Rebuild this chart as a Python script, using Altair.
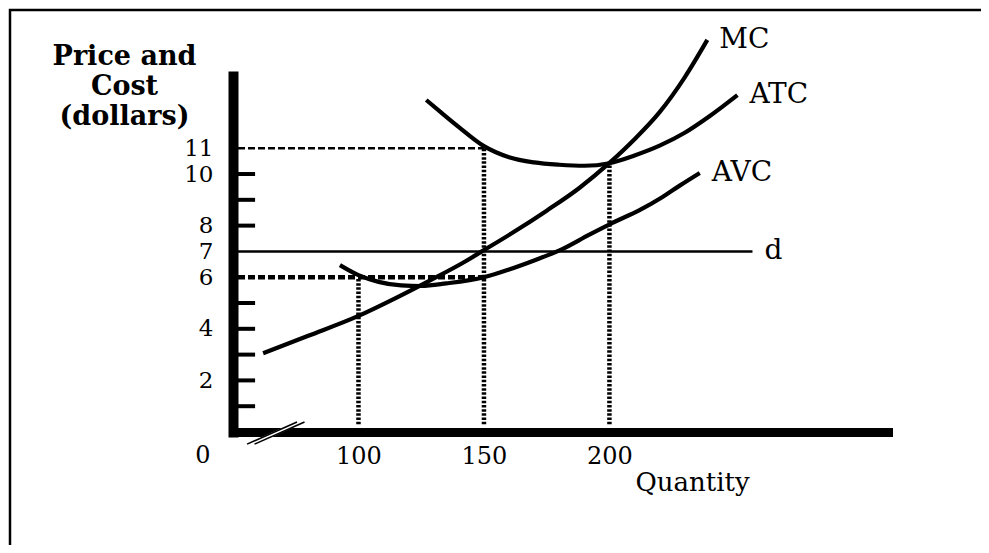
import altair as alt
import pandas as pd

FONT = "DejaVu Serif"

# ---- curve data (quantity, dollars) ----
mc_q = [62, 80, 100, 115, 128, 142, 150, 162, 175, 188, 200, 210, 220, 230, 239]
mc_p = [3.05, 3.73, 4.5, 5.2, 5.85, 6.58, 7.05, 7.76, 8.58, 9.46, 10.43, 11.35, 12.4, 13.75, 15.2]

atc_q = [127, 133, 140, 150, 160, 170, 180, 190, 200, 210, 220, 230, 240, 251]
atc_p = [12.87, 12.38, 11.82, 11.08, 10.65, 10.45, 10.36, 10.32, 10.42, 10.72, 11.1, 11.6, 12.25, 13.06]

avc_q = [92.6, 100, 108, 117, 125, 135, 150, 160, 170, 181, 192, 201, 212, 221, 228, 236]
avc_p = [6.47, 6.08, 5.82, 5.68, 5.66, 5.76, 6.0, 6.3, 6.65, 7.08, 7.65, 8.1, 8.6, 9.1, 9.55, 10.04]

curve_names = ["MC", "ATC", "AVC"]

# demand line d
demand_price = 7
demand_end = 257

# horizontal dashed guides
guide11_price, guide11_end = 11, 150
guide6_price, guide6_end = 6, 150

# vertical dotted guides
dotted_q = [100, 150, 200]
dotted_top = [6, 11, 10.42]

# axis text
y_label_values = [2, 4, 6, 7, 8, 10, 11]
y_minor_ticks = [1, 2, 3, 4, 5, 8, 9, 10]
x_label_values = [100, 150, 200]
y_title = ["Price and", "Cost", "(dollars)"]
x_title = "Quantity"

Q_DOMAIN = [50, 311]
P_DOMAIN = [0, 13.8]

# ---- tables ----
curves = pd.concat([
    pd.DataFrame({"q": mc_q, "p": mc_p, "curve": "MC"}),
    pd.DataFrame({"q": atc_q, "p": atc_p, "curve": "ATC"}),
    pd.DataFrame({"q": avc_q, "p": avc_p, "curve": "AVC"}),
], ignore_index=True)

ends = pd.DataFrame({
    "q": [mc_q[-1], atc_q[-1], avc_q[-1], demand_end],
    "p": [mc_p[-1], atc_p[-1], avc_p[-1], demand_price],
    "t": curve_names + ["d"],
})

axis_edge = 52.0  # right edge of the thick y axis, in quantity units

demand_df = pd.DataFrame({"q1": [axis_edge], "q2": [demand_end], "p": [demand_price]})
g11_df = pd.DataFrame({"q1": [axis_edge], "q2": [guide11_end], "p": [guide11_price]})
g6_df = pd.DataFrame({"q1": [axis_edge], "q2": [guide6_end], "p": [guide6_price]})
dotted_df = pd.DataFrame({"q": dotted_q, "p1": [0.3] * 3, "p2": dotted_top})
ticks_df = pd.DataFrame({"p": y_minor_ticks, "q1": axis_edge, "q2": 58.8})
break_df = pd.DataFrame({"q1": [55.6, 58.6], "q2": [75.5, 78.5], "p1": [-0.47, -0.47], "p2": [0.39, 0.39]})
gap_df = pd.DataFrame({"q1": [57.1], "q2": [77.0], "p1": [-0.47], "p2": [0.39]})
zero_df = pd.DataFrame({"q": [38], "p": [-1.2], "t": ["0"]})

xs = alt.Scale(domain=Q_DOMAIN, nice=False, zero=False)
ys = alt.Scale(domain=P_DOMAIN, nice=False, zero=False)

x_axis = alt.Axis(
    values=x_label_values, domainWidth=9, domainColor="black", domainCap="square",
    ticks=False, grid=False, labelFont=FONT, labelFontSize=24, labelColor="black",
    labelBaseline="alphabetic", labelPadding=31, labelFlush=False,
    title=x_title, titleFont=FONT, titleFontSize=26, titleFontWeight="normal",
    titleColor="black", titleX=459, titleY=58, titleAlign="center",
    titleBaseline="alphabetic",
)
y_axis = alt.Axis(
    values=y_label_values, domainWidth=10, domainColor="black", domainCap="square",
    ticks=False, grid=False, labelFont=FONT, labelFontSize=23, labelColor="black",
    labelBaseline="middle", labelPadding=20, labelFlush=False,
    title=y_title, titleFont=FONT, titleFontSize=27, titleFontWeight="bold",
    titleColor="black", titleAngle=0, titleX=-109, titleY=-12, titleAlign="center",
    titleBaseline="alphabetic", titleLineHeight=30,
)


def X(f):
    return alt.X(f, type="quantitative", scale=xs, axis=x_axis)


def Y(f):
    return alt.Y(f, type="quantitative", scale=ys, axis=y_axis)


frame = alt.Chart(zero_df).mark_rect(filled=False, stroke="black", strokeWidth=2.5).encode(
    x=alt.value(-223), x2=alt.value(800), y=alt.value(-66), y2=alt.value(520)
)

demand = alt.Chart(demand_df).mark_rule(color="black", strokeWidth=2.5).encode(
    x=X("q1"), x2="q2", y=Y("p")
)
g11 = alt.Chart(g11_df).mark_rule(color="black", strokeWidth=2.5, strokeDash=[7, 3]).encode(
    x=X("q1"), x2="q2", y=Y("p")
)
g6 = alt.Chart(g6_df).mark_rule(color="black", strokeWidth=4.5, strokeDash=[7, 3]).encode(
    x=X("q1"), x2="q2", y=Y("p")
)
dotted = alt.Chart(dotted_df).mark_rule(color="black", strokeWidth=4.5, strokeDash=[2.5, 1.7]).encode(
    x=X("q"), y=Y("p1"), y2="p2"
)
lines = alt.Chart(curves).mark_line(color="black", strokeWidth=4.2, interpolate="monotone").encode(
    x=X("q"), y=Y("p"), detail="curve:N"
)
ticks = alt.Chart(ticks_df).mark_rule(color="black", strokeWidth=4).encode(
    x=X("q1"), x2="q2", y=Y("p")
)
gap = alt.Chart(gap_df).mark_rule(color="white", strokeWidth=4).encode(
    x=X("q1"), x2="q2", y=Y("p1"), y2="p2"
)
brk = alt.Chart(break_df).mark_rule(color="black", strokeWidth=1.6).encode(
    x=X("q1"), x2="q2", y=Y("p1"), y2="p2"
)
labels = alt.Chart(ends).mark_text(
    align="left", baseline="middle", dx=12, font=FONT, fontSize=28, color="black"
).encode(x=X("q"), y=Y("p"), text="t:N")
zero = alt.Chart(zero_df).mark_text(
    align="center", baseline="alphabetic", font=FONT, fontSize=24, color="black"
).encode(x=X("q"), y=Y("p"), text="t:N")

chart = alt.layer(
    frame, g11, g6, dotted, demand, lines, ticks, gap, brk, labels, zero
).properties(
    width=655, height=356,
    autosize=alt.AutoSizeParams(type="none"),
    padding={"left": 225, "top": 68, "right": 93, "bottom": 113},
    background="white",
).configure_view(strokeWidth=0)

chart.save("out.html", embed_options={"renderer": "svg", "actions": False})
